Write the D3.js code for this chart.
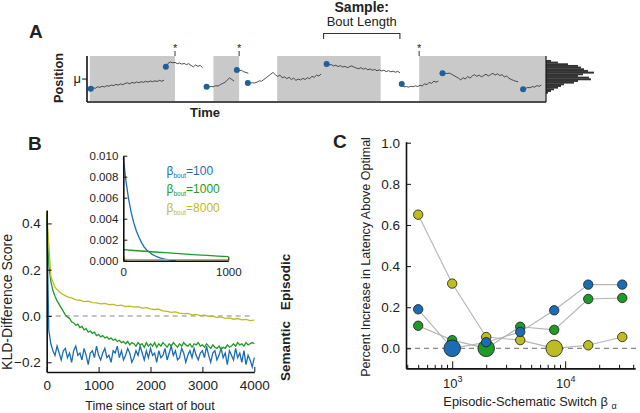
<!DOCTYPE html>
<html>
<head>
<meta charset="utf-8">
<script src="https://cdn.jsdelivr.net/npm/d3@7"></script>
<style>
body { margin: 0; background: #fff; }
svg text { font-family: "Liberation Sans", Arial, sans-serif; fill: #222; }
</style>
</head>
<body>
<svg id="fig" width="640" height="413"></svg>
<script>

// ---- Panel A: random walk with sampled bouts ----
var boutSpans = [[0.4, 19.0], [27.4, 33.0], [41.3, 63.9], [72.3, 99.9]];
var sampleMarks = [19.0, 33.0, 72.3];
var walkStarts = [0.6, 17.0, 25.9, 32.5, 34.9, 52.1, 68.5, 77.4, 95.0];
var walkStep = 0.5;
var walkValues = [
    [-0.44, -0.40, -0.42, -0.35, -0.38, -0.33, -0.36, -0.30, -0.33, -0.27, -0.30, -0.24, -0.28, -0.22, -0.26, -0.20, -0.17,
     -0.22, -0.15, -0.19, -0.13, -0.17, -0.12, -0.15, -0.10, -0.14, -0.09, -0.12, -0.08, -0.11, -0.06, -0.10, -0.05],
    [0.56, 0.72, 0.78, 0.74, 0.76, 0.70, 0.73, 0.68, 0.71, 0.66, 0.70, 0.62, 0.56, 0.64, 0.58, 0.62, 0.52],
    [-0.35, -0.36, -0.34, -0.35, -0.30, -0.32, -0.25, -0.20, -0.15, -0.05, 0.05, -0.02, -0.09],
    [0.41, 0.38, 0.40, 0.33, 0.30, 0.26],
    [-0.18, -0.18, -0.17, -0.18, -0.14, -0.08, -0.10, -0.02, 0.06, 0.14, 0.22, 0.30, 0.20, 0.12, 0.18, 0.06, 0.10,
     0.02, 0.08, -0.02, 0.04, -0.06, 0.0, -0.04, 0.03, -0.02, 0.06, 0.02, 0.12, 0.08, 0.18, 0.14, 0.23],
    [0.68, 0.64, 0.66, 0.60, 0.63, 0.57, 0.61, 0.55, 0.58, 0.52, 0.56, 0.60, 0.54, 0.50, 0.47, 0.52, 0.45,
     0.49, 0.42, 0.46, 0.40, 0.44, 0.38, 0.42, 0.37, 0.40, 0.34, 0.38, 0.33, 0.36, 0.31, 0.35, 0.29],
    [-0.23, -0.36, -0.34, -0.37, -0.33, -0.35, -0.31, -0.34, -0.28, -0.31, -0.22, -0.26, -0.15, -0.20, -0.10, -0.14, -0.09],
    [0.26, 0.27, 0.25, 0.27, 0.22, 0.16, 0.10, 0.04, -0.04, 0.06, 0.0, 0.12, 0.04, 0.14, 0.20, 0.12, 0.18,
     0.10, 0.16, 0.22, 0.14, 0.20, 0.26, 0.18, 0.24, 0.16, 0.20, 0.10, 0.14, 0.04, -0.02, -0.06, -0.10, -0.12],
    [-0.46, -0.44, -0.38, -0.40, -0.34, -0.37, -0.30, -0.33, -0.27]
];
// histogram of positions, top bin first
var histRange = [-0.65, 0.87];
var histCounts = [5, 12, 22, 32, 35, 38, 42, 48, 37, 32, 43, 45, 32, 28, 18, 15, 12, 8, 5, 2];

// ---- Panel B: KLD difference over time ----
var kldTime = d3.range(0, 4001, 40);
var kldBlue = [0.45, -0.06, -0.12, -0.15, -0.17, -0.13, -0.16, -0.19, -0.15, -0.14,
    -0.18, -0.16, -0.20, -0.15, -0.13, -0.17, -0.16, -0.19, -0.14, -0.17,
    -0.21, -0.16, -0.15, -0.18, -0.13, -0.17, -0.19, -0.16, -0.14, -0.18,
    -0.17, -0.20, -0.15, -0.16, -0.13, -0.18, -0.15, -0.19, -0.17, -0.14,
    -0.16, -0.20, -0.18, -0.15, -0.17, -0.13, -0.16, -0.19, -0.15, -0.18,
    -0.14, -0.17, -0.16, -0.20, -0.15, -0.18, -0.17, -0.14, -0.19, -0.16,
    -0.13, -0.17, -0.15, -0.19, -0.18, -0.14, -0.16, -0.20, -0.17, -0.15,
    -0.18, -0.14, -0.17, -0.19, -0.16, -0.15, -0.18, -0.13, -0.17, -0.20,
    -0.16, -0.15, -0.19, -0.17, -0.14, -0.18, -0.16, -0.21, -0.15, -0.17,
    -0.19, -0.14, -0.18, -0.16, -0.20, -0.15, -0.21, -0.17, -0.19, -0.22, -0.18];
var kldGreen = [0.45, 0.22, 0.15, 0.11, 0.085, 0.065, 0.05, 0.035, 0.02, 0.005,
    -0.005, -0.01, -0.025, -0.03, -0.04, -0.035, -0.05, -0.045, -0.06, -0.055,
    -0.07, -0.065, -0.075, -0.07, -0.085, -0.08, -0.09, -0.085, -0.095, -0.09,
    -0.10, -0.095, -0.105, -0.10, -0.11, -0.105, -0.115, -0.11, -0.12, -0.11,
    -0.125, -0.115, -0.12, -0.13, -0.115, -0.125, -0.12, -0.135, -0.115, -0.13,
    -0.12, -0.13, -0.115, -0.135, -0.12, -0.13, -0.115, -0.125, -0.135, -0.12,
    -0.13, -0.115, -0.125, -0.135, -0.12, -0.13, -0.115, -0.125, -0.13, -0.12,
    -0.135, -0.12, -0.125, -0.115, -0.13, -0.125, -0.135, -0.12, -0.13, -0.14,
    -0.125, -0.135, -0.14, -0.13, -0.145, -0.135, -0.14, -0.125, -0.135, -0.13,
    -0.12, -0.13, -0.115, -0.125, -0.12, -0.13, -0.115, -0.125, -0.12, -0.115, -0.12];
var yellowTime = d3.range(0, 4001, 80);
var kldYellow = [0.45, 0.17, 0.125, 0.105, 0.092, 0.083, 0.078, 0.070, 0.068, 0.062,
    0.064, 0.058, 0.057, 0.052, 0.054, 0.049, 0.050, 0.045, 0.047, 0.041,
    0.043, 0.038, 0.040, 0.034, 0.036, 0.031, 0.028, 0.030, 0.022, 0.020,
    0.016, 0.018, 0.012, 0.010, 0.011, 0.005, 0.007, 0.002, 0.004, -0.002,
    -0.001, -0.007, -0.004, -0.010, -0.008, -0.014, -0.011, -0.017, -0.015, -0.020, -0.018];

// inset: first 1000 steps
var insetBlueTime = d3.range(0, 501, 25);
var insetBlue = [0.0098, 0.0076, 0.0059, 0.0046, 0.0036, 0.0028, 0.0022, 0.0017, 0.0013, 0.0010,
    0.0008, 0.0006, 0.00047, 0.00036, 0.00027, 0.0002, 0.00014, 0.0001, 0.00006, 0.00003, 0];
var insetGreenTime = d3.range(0, 1001, 100);
var insetGreen = [0.00105, 0.00097, 0.00090, 0.00083, 0.00076, 0.00069, 0.00062, 0.00056, 0.00050, 0.00044, 0.00038];
var insetYellowTime = [0, 250, 500, 750, 1000];
var insetYellow = [0.00012, 0.0001, 0.0001, 0.00009, 0.00009];
var betaBout = ["100", "1000", "8000"];

// ---- Panel C: latency vs switch parameter ----
var switchBeta = [500, 1000, 2000, 4000, 8000, 16000, 32000];
var latBlue = [0.19, 0.0, 0.03, 0.08, 0.185, 0.31, 0.31];
var latGreen = [0.11, 0.04, 0.0, 0.105, 0.09, 0.24, 0.245];
var latYellow = [0.65, 0.315, 0.055, 0.04, 0.0, 0.015, 0.055];

var BLUE = "#1b6cb5", GREEN = "#1e9a26", YELLOW = "#bcbd22";

var svg = d3.select("#fig");

function panelLabel(txt, x, y) {
    svg.append("text").attr("x", x).attr("y", y)
        .attr("font-size", 19).attr("font-weight", "bold").attr("fill", "#000").text(txt);
}

function styleAxis(g, size) {
    g.selectAll(".domain").attr("stroke", "#111").attr("stroke-width", 1.6);
    g.selectAll(".tick line").attr("stroke", "#111").attr("stroke-width", 1);
    g.selectAll(".tick text").attr("font-size", size).attr("fill", "#222")
        .style("font-family", "'Liberation Sans', Arial, sans-serif");
    g.attr("font-family", null);
}

// ================= A =================
var xA = d3.scaleLinear([0, 100], [88, 546]);
var yA = d3.scaleLinear([-1, 1.05], [101, 56]);
var xH = d3.scaleLinear([0, 50], [546, 596]);

var gA = svg.append("g");

gA.selectAll("rect.bout")
    .data(boutSpans)
    .enter().append("rect")
        .attr("x", d => xA(d[0]))
        .attr("width", d => xA(d[1]) - xA(d[0]))
        .attr("y", yA(1.05))
        .attr("height", yA(-1) - yA(1.05))
        .attr("fill", "#c9c9c9");

// histogram
var binH = (histRange[1] - histRange[0]) / histCounts.length;
gA.selectAll("rect.hist")
    .data(histCounts)
    .enter().append("rect")
        .attr("x", xH(0))
        .attr("y", (d, i) => yA(histRange[1] - i * binH))
        .attr("width", d => xH(d) - xH(0))
        .attr("height", yA(0) - yA(binH) + 0.3)
        .attr("fill", "#333");

// walks
var walkLine = d3.line()
    .x(d => xA(d.t))
    .y(d => yA(d.v));

walkValues.forEach(function(vals, k) {
    var pts = vals.map((v, i) => ({t: walkStarts[k] + i * walkStep, v: v}));
    gA.append("path")
        .attr("d", walkLine(pts))
        .attr("fill", "none")
        .attr("stroke", "#3a3a3a")
        .attr("stroke-width", 0.9);
    gA.append("circle")
        .attr("cx", xA(pts[0].t))
        .attr("cy", yA(pts[0].v))
        .attr("r", 3)
        .attr("fill", "#1f5f9c");
});

// spines
gA.append("line").attr("x1", xA(0) - 1).attr("x2", xA(0) - 1).attr("y1", yA(1.05)).attr("y2", yA(-1) + 1)
    .attr("stroke", "#111").attr("stroke-width", 1.6);
gA.append("line").attr("x1", xA(0) - 1).attr("x2", xA(100)).attr("y1", yA(-1) + 1).attr("y2", yA(-1) + 1)
    .attr("stroke", "#111").attr("stroke-width", 1.6);
gA.append("line").attr("x1", xA(100)).attr("x2", xA(100)).attr("y1", yA(1.05)).attr("y2", yA(-1) + 1)
    .attr("stroke", "#111").attr("stroke-width", 1.2);

// mu tick
gA.append("line").attr("x1", xA(0) - 6).attr("x2", xA(0) - 1).attr("y1", yA(0)).attr("y2", yA(0))
    .attr("stroke", "#111").attr("stroke-width", 1);
gA.append("text").attr("x", xA(0) - 7).attr("y", yA(0) + 4)
    .attr("text-anchor", "end").attr("font-size", 13).text("μ");

// sample marks
sampleMarks.forEach(function(t) {
    gA.append("line").attr("x1", xA(t)).attr("x2", xA(t)).attr("y1", yA(1.05) - 5).attr("y2", yA(1.05))
        .attr("stroke", "#333").attr("stroke-width", 1);
    gA.append("text").attr("x", xA(t)).attr("y", 52)
        .attr("text-anchor", "middle").attr("font-size", 11).text("*");
});

// bout length bracket over the sixth walk
var bx0 = xA(walkStarts[5]) - 3,
    bx1 = xA(walkStarts[5] + (walkValues[5].length - 1) * walkStep);
gA.append("path")
    .attr("d", "M" + bx0 + ",39V33.5H" + bx1 + "V39")
    .attr("fill", "none").attr("stroke", "#333").attr("stroke-width", 1.1);
gA.append("text").attr("x", (bx0 + bx1) / 2).attr("y", 12)
    .attr("text-anchor", "middle").attr("font-size", 14).attr("font-weight", "bold").text("Sample:");
gA.append("text").attr("x", (bx0 + bx1) / 2).attr("y", 26)
    .attr("text-anchor", "middle").attr("font-size", 13).text("Bout Length");

gA.append("text").attr("x", 205).attr("y", 117)
    .attr("text-anchor", "middle").attr("font-size", 13).attr("font-weight", "bold").text("Time");
gA.append("text").attr("transform", "translate(63,78) rotate(-90)")
    .attr("text-anchor", "middle").attr("font-size", 12.7).attr("font-weight", "bold").text("Position");

panelLabel("A", 29, 38);

// ================= B =================
var xB = d3.scaleLinear([0, 4000], [46.7, 254.3]);
var yB = d3.scaleLinear([-0.242, 0.458], [372, 210]);
var gB = svg.append("g");

gB.append("line")
    .attr("x1", xB(0)).attr("x2", xB(4000) - 1)
    .attr("y1", yB(0)).attr("y2", yB(0))
    .attr("stroke", "#888").attr("stroke-width", 1.2).attr("stroke-dasharray", "5,4");

var lineB = d3.line().x(d => xB(d[0])).y(d => yB(d[1]));
[[kldTime, kldBlue, BLUE], [kldTime, kldGreen, GREEN], [yellowTime, kldYellow, YELLOW]].forEach(function(s) {
    gB.append("path")
        .attr("d", lineB(d3.zip(s[0], s[1])))
        .attr("fill", "none").attr("stroke", s[2]).attr("stroke-width", 1.3);
});

var axBy = gB.append("g").attr("transform", "translate(" + xB(0) + ",0)")
    .call(d3.axisLeft(yB).tickValues([-0.2, 0, 0.2, 0.4]).tickFormat(d3.format(".1f"))
        .tickSize(-5).tickSizeOuter(0).tickPadding(6));
styleAxis(axBy, 13.5);
var axBx = gB.append("g").attr("transform", "translate(0," + yB(-0.242) + ")")
    .call(d3.axisBottom(xB).tickValues([0, 1000, 2000, 3000, 4000]).tickFormat(d3.format("d"))
        .tickSize(-5).tickSizeOuter(0).tickPadding(8));
styleAxis(axBx, 13.5);

gB.append("text").attr("x", 150).attr("y", 410)
    .attr("text-anchor", "middle").attr("font-size", 12.5).text("Time since start of bout");
gB.append("text").attr("transform", "translate(12,302) rotate(-90)")
    .attr("text-anchor", "middle").attr("font-size", 14).text("KLD-Difference Score");
gB.append("text").attr("transform", "translate(290,282) rotate(-90)")
    .attr("text-anchor", "middle").attr("font-size", 13.5).attr("font-weight", "bold").text("Episodic");
gB.append("text").attr("transform", "translate(290,351) rotate(-90)")
    .attr("text-anchor", "middle").attr("font-size", 13.5).attr("font-weight", "bold").text("Semantic");

// inset
var xI = d3.scaleLinear([0, 1000], [123.3, 228.3]);
var yI = d3.scaleLinear([0, 0.010], [260.7, 155.7]);
var gI = svg.append("g");
gI.append("rect").attr("x", xI(0)).attr("y", yI(0.0102)).attr("width", xI(1000) - xI(0))
    .attr("height", yI(0) - yI(0.0102)).attr("fill", "#fff");

var lineI = d3.line().x(d => xI(d[0])).y(d => yI(d[1]));
[[insetBlueTime, insetBlue, BLUE], [insetGreenTime, insetGreen, GREEN], [insetYellowTime, insetYellow, YELLOW]].forEach(function(s) {
    gI.append("path")
        .attr("d", lineI(d3.zip(s[0], s[1])))
        .attr("fill", "none").attr("stroke", s[2]).attr("stroke-width", 1.3);
});

var axIy = gI.append("g").attr("transform", "translate(" + xI(0) + ",0)")
    .call(d3.axisLeft(yI).tickValues([0, 0.002, 0.004, 0.006, 0.008, 0.010]).tickFormat(d3.format(".3f"))
        .tickSize(-4).tickSizeOuter(0).tickPadding(5));
styleAxis(axIy, 11.5);
var axIx = gI.append("g").attr("transform", "translate(0," + yI(0) + ")")
    .call(d3.axisBottom(xI).tickValues([0, 1000]).tickFormat(d3.format("d"))
        .tickSize(-4).tickSizeOuter(0).tickPadding(7));
styleAxis(axIx, 11.5);

[BLUE, GREEN, YELLOW].forEach(function(c, i) {
    var t = gI.append("text").attr("x", 166.5).attr("y", 175 + i * 18.3)
        .attr("font-size", 12).attr("fill", c).style("fill", c);
    t.append("tspan").text("β");
    t.append("tspan").attr("dy", 3).attr("font-size", 6.5).text("bout");
    t.append("tspan").attr("dy", -3).text("=" + betaBout[i]);
});

panelLabel("B", 28, 150);

// ================= C =================
var xC = d3.scaleLog([390, 41500], [406, 635]);
var yC = d3.scaleLinear([-0.097, 1.005], [368.3, 141.7]);
var gC = svg.append("g");

gC.append("line")
    .attr("x1", xC(390)).attr("x2", 640)
    .attr("y1", yC(0)).attr("y2", yC(0))
    .attr("stroke", "#888").attr("stroke-width", 1.2).attr("stroke-dasharray", "5,4");

var seriesC = [[latYellow, YELLOW], [latGreen, GREEN], [latBlue, BLUE]];
var lineC = d3.line().x(d => xC(d[0])).y(d => yC(d[1]));
seriesC.forEach(function(s) {
    gC.append("path")
        .attr("d", lineC(d3.zip(switchBeta, s[0])))
        .attr("fill", "none").attr("stroke", "#b4b4b4").attr("stroke-width", 1.1);
});
seriesC.forEach(function(s) {
    var best = d3.min(s[0]);
    gC.selectAll(null)
        .data(d3.zip(switchBeta, s[0]))
        .enter().append("circle")
            .attr("cx", d => xC(d[0]))
            .attr("cy", d => yC(d[1]))
            .attr("r", d => d[1] === best ? 8.3 : 4.7)
            .attr("fill", s[1])
            .attr("stroke", "#1a1a1a")
            .attr("stroke-width", 0.8);
});

var axCy = gC.append("g").attr("transform", "translate(" + xC(390) + ",0)")
    .call(d3.axisLeft(yC).tickValues([0, 0.2, 0.4, 0.6, 0.8, 1.0]).tickFormat(d3.format(".1f"))
        .tickSize(-5).tickSizeOuter(0).tickPadding(6));
styleAxis(axCy, 13.5);

var minorC = xC.ticks().filter(d => Math.abs(Math.log10(d) % 1) > 1e-6);
var axCminor = gC.append("g").attr("transform", "translate(0," + yC(-0.097) + ")")
    .call(d3.axisBottom(xC).tickValues(minorC).tickFormat("").tickSize(-3.5).tickSizeOuter(0));
styleAxis(axCminor, 12);
var axCx = gC.append("g").attr("transform", "translate(0," + yC(-0.097) + ")")
    .call(d3.axisBottom(xC).tickValues([1000, 10000]).tickFormat("").tickSize(-7).tickSizeOuter(0));
styleAxis(axCx, 12);
axCx.selectAll(".tick").each(function(d) {
    var t = d3.select(this).append("text").attr("y", 20).attr("text-anchor", "middle")
        .attr("fill", "#222").attr("font-size", 13);
    t.append("tspan").text("10");
    t.append("tspan").attr("dy", -6).attr("font-size", 9).text(Math.round(Math.log10(d)));
});

var xl = gC.append("text").attr("x", 530).attr("y", 406)
    .attr("text-anchor", "middle").attr("font-size", 12.8);
xl.append("tspan").text("Episodic-Schematic Switch β ");
xl.append("tspan").attr("dy", 3).attr("font-size", 9).text("α");
gC.append("text").attr("transform", "translate(370,257) rotate(-90)")
    .attr("text-anchor", "middle").attr("font-size", 12.5).text("Percent Increase in Latency Above Optimal");

panelLabel("C", 333, 148);

</script>
</body>
</html>
